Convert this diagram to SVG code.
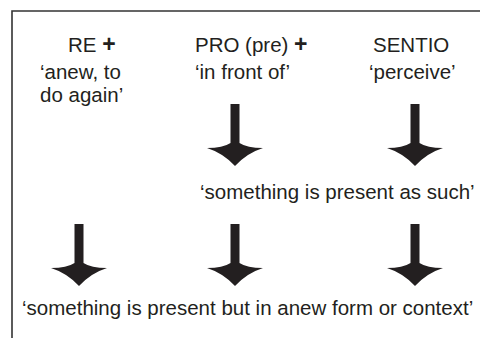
<svg xmlns="http://www.w3.org/2000/svg" xmlns:xlink="http://www.w3.org/1999/xlink" width="480" height="338" viewBox="0 0 480 338">
<style>
  text { font-family: "Liberation Sans", Arial, sans-serif; font-size: 20.5px; fill: #231f20; }
  .plus { font-weight: bold; font-size: 23px; }
  .frame { fill: none; stroke: #333; stroke-width: 1.6; }
  .arrow { fill: #231f20; }
</style>
<defs>
  <!-- arrow with tip at (0,0), shaft top at y=-62 -->
  <path id="arr" d="M -4.5,-62 L 4.5,-62 L 4.5,-23 Q 12,-18 28,-18 Q 12,-13 0,0 Q -12,-13 -28,-18 Q -12,-18 -4.5,-23 Z"/>
</defs>
<rect width="480" height="338" fill="#fff"/>
<path class="frame" d="M 12,340 L 12,11 L 482,11"/>
<g id="re">
  <text x="68" y="52">RE <tspan class="plus">+</tspan></text>
  <text x="40" y="79">‘anew, to</text>
  <text x="40" y="102">do again’</text>
</g>
<g id="pro">
  <text x="195" y="52">PRO (pre) <tspan class="plus">+</tspan></text>
  <text x="195" y="79">‘in front of’</text>
</g>
<g id="sentio">
  <text x="373" y="52">SENTIO</text>
  <text x="369" y="79">‘perceive’</text>
</g>
<g id="present">
  <text x="200" y="199">‘something is present as such’</text>
</g>
<g id="anew-form">
  <text x="22" y="315">‘something is present but in anew form or context’</text>
</g>
<g id="connectors" class="arrow">
  <use xlink:href="#arr" x="235" y="166"/>
  <use xlink:href="#arr" x="415" y="166"/>
  <use xlink:href="#arr" x="79" y="286"/>
  <use xlink:href="#arr" x="235" y="286"/>
  <use xlink:href="#arr" x="415" y="286"/>
</g>
</svg>
